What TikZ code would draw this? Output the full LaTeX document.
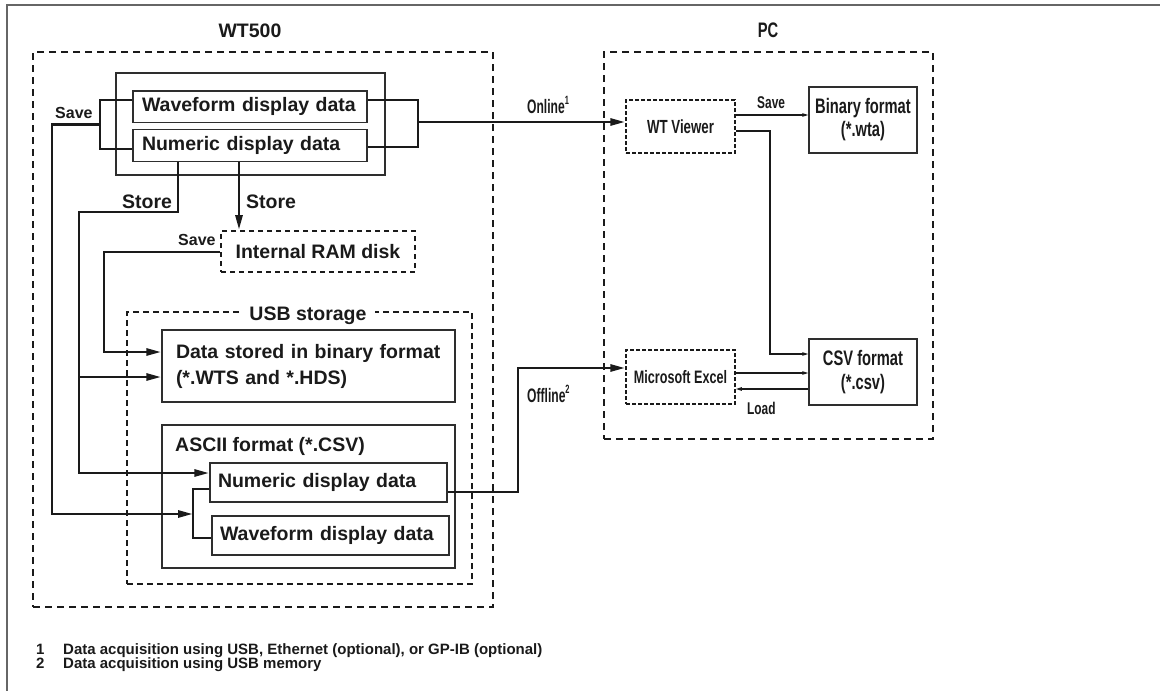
\documentclass[tikz,border=0pt]{standalone}
\usepackage{fontspec}
\setmainfont{Liberation Sans}
\newfontfamily\nf{Liberation Sans}[FakeStretch=0.7]
\newfontfamily\nnf{Liberation Sans}[FakeStretch=0.62]
\usetikzlibrary{arrows.meta,calc}
\definecolor{ink}{HTML}{1A1A1A}
\definecolor{edge}{HTML}{2E2E2E}
\definecolor{framec}{HTML}{666666}
\tikzset{
  lbl/.style={font={\fontsize{19.5}{24}\selectfont\bfseries}, text=ink, inner sep=0pt},
  slbl/.style={font={\fontsize{16}{18}\selectfont\bfseries}, text=ink, inner sep=0pt},
  nlbl/.style={font={\nf\fontsize{17}{20}\selectfont\bfseries}, text=ink, inner sep=0pt},
  olbl/.style={font={\nnf\fontsize{19.5}{22}\selectfont\bfseries}, text=ink, inner sep=0pt},
  fnote/.style={font={\fontsize{15}{16}\selectfont\bfseries}, text=ink, inner sep=0pt},
  sbox/.style={draw=edge, line width=1.4pt, inner ysep=0pt, align=left, lbl},
  bigbox/.style={draw=ink, line width=2.4pt, dash pattern=on 7pt off 5pt},
  usbbox/.style={draw=ink, line width=1.7pt, dash pattern=on 6pt off 4pt},
  rambox/.style={draw=ink, line width=2pt, dash pattern=on 5pt off 4pt},
  appbox/.style={draw=ink, line width=1.5pt, dash pattern=on 4pt off 2pt, inner sep=0pt},
  conn/.style={draw=ink, line width=2.8pt},
  arr/.style={-{Triangle[length=15pt,width=7pt]}},
  thinln/.style={draw=ink, line width=1.1pt},
  tarr/.style={-{Triangle[length=6pt,width=3.4pt]}}
}
\begin{document}
\begin{tikzpicture}[x=1pt,y=-1pt]
\useasboundingbox (0,0) rectangle (1160,691);
% outer frame
\draw[framec, line width=1.6pt] (7,691) -- (7,5) -- (1160,5);

% ---------------- WT500 side ----------------
\node[lbl, font={\fontsize{19.5}{22}\selectfont\bfseries}, anchor=base] (wtt) at (250,37) {WT500};
\node[bigbox, minimum width=460, minimum height=555] (wt) at (263,329.5) {};
\node[draw=edge, line width=1.4pt, minimum width=269, minimum height=102] (disp) at (250.5,124) {};
\node[sbox, text width=216, inner xsep=9pt, minimum height=31.7] (wf) at (250,106.9) {Waveform display data};
\node[sbox, text width=216, inner xsep=9pt, minimum height=31.7] (nd) at (250,145.5) {Numeric display data};

\node[rambox, lbl, minimum width=194, minimum height=41] (ram) at (318,251.5) {Internal RAM disk};

\node[usbbox, minimum width=345, minimum height=272] (usb) at (299.5,448) {};
\node[lbl, fill=white, inner xsep=8pt, anchor=base] (usbt) at (308,320) {USB storage};

\node[sbox, font={\fontsize{19.5}{26}\selectfont\bfseries}, text width=265, inner xsep=14pt, minimum height=72] (bin) at (308.5,366) {Data stored in binary format\\(*.WTS and *.HDS)};

\node[draw=edge, line width=1.4pt, minimum width=293, minimum height=143] (ascii) at (308.5,496.5) {};
\node[lbl, anchor=base west] (asciit) at (175,451) {ASCII format (*.CSV)};
\node[sbox, text width=221, inner xsep=8pt, minimum height=39] (and2) at (328.5,482.5) {Numeric display data};
\node[sbox, text width=221, inner xsep=8pt, minimum height=39] (awf) at (330.5,535.5) {Waveform display data};

% ---------------- PC side ----------------
\node[lbl, font={\nf\fontsize{21}{22}\selectfont\bfseries}, anchor=base] (pct) at (768,37) {PC};
\node[bigbox, minimum width=329, minimum height=387] (pc) at (768.5,245.5) {};
\node[appbox, font={\nf\fontsize{19}{22}\selectfont\bfseries}, text=ink, minimum width=109, minimum height=53] (wtv) at (680.5,126.5) {WT Viewer};
\node[appbox, font={\nf\fontsize{18}{22}\selectfont\bfseries}, text=ink, minimum width=109, minimum height=54] (excel) at (680.5,377) {Microsoft Excel};
\node[draw=edge, line width=1.4pt, font={\nf\fontsize{21}{23}\selectfont\bfseries}, text=ink, align=center, inner sep=0pt, minimum width=108, minimum height=66] (binf) at (863,120) {Binary format\\(*.wta)};
\node[draw=edge, line width=1.4pt, font={\nf\fontsize{21}{24}\selectfont\bfseries}, text=ink, align=center, inner sep=0pt, minimum width=108, minimum height=66] (csv) at (863,372) {CSV format\\(*.csv)};

% ---------------- coordinates ----------------
\coordinate (b1) at (100,100);
\coordinate (b2) at (100,149);
\coordinate (bm) at (100,124.5);
\coordinate (s1) at (52,124.5);
\coordinate (s2) at (52,514);
\coordinate (c1) at (193,489);
\coordinate (c2) at (193,538);
\coordinate (r1) at (418,100);
\coordinate (r2) at (418,147);
\coordinate (rm) at (418,122);
\coordinate (st0) at (178,0);
\coordinate (st1) at (178,212);
\coordinate (st2) at (79,212);
\coordinate (st3) at (79,473);
\coordinate (st4) at (79,377);
\coordinate (sr) at (239,0);
\coordinate (rs1) at (104,252);
\coordinate (rs2) at (104,352);
\coordinate (o1) at (518,492);
\coordinate (o2) at (518,368);
\coordinate (p1) at (770,115);
\coordinate (p2) at (770,131);
\coordinate (p3) at (770,354);
\coordinate (p4) at (770,373);
\coordinate (p5) at (770,389);

% ---------------- connectors ----------------
% display data brackets
\draw[conn] (b1 -| wf.west) -- (b1) -- (b2) -- (b2 -| nd.west);
\draw[conn, arr] (bm) -- (s1) -- (s2) -- (s2 -| c1);
\draw[conn] (c1 -| and2.west) -- (c1) -- (c2) -- (c2 -| awf.west);
\draw[conn] (r1 -| wf.east) -- (r1) -- (r2) -- (r2 -| nd.east);
\draw[conn, arr] (rm) -- (rm -| wtv.west);
% store
\draw[conn, arr] (st0 |- nd.south) -- (st1) -- (st2) -- (st3) -- (st3 -| and2.west);
\draw[conn, arr] (st4) -- (st4 -| bin.west);
\draw[conn, arr] (sr |- nd.south) -- (sr |- ram.north);
% RAM save
\draw[conn, arr] (rs1 -| ram.west) -- (rs1) -- (rs2) -- (rs2 -| bin.west);
% offline
\draw[conn, arr] (o1 -| and2.east) -- (o1) -- (o2) -- (o2 -| excel.west);
% PC internal
\draw[thinln, tarr] (p1 -| wtv.east) -- (p1 -| binf.west);
\draw[thinln, tarr] (p2 -| wtv.east) -- (p2) -- (p3) -- (p3 -| csv.west);
\draw[thinln, tarr] (p4 -| excel.east) -- (p4 -| csv.west);
\draw[thinln, tarr] (p5 -| csv.west) -- (p5 -| excel.east);

% ---------------- labels ----------------
\node[slbl, anchor=base west] (save1) at (55,118) {Save};
\node[lbl, anchor=base west] (store1) at (122,208) {Store};
\node[lbl, anchor=base west] (store2) at (246,208) {Store};
\node[slbl, anchor=base west] (save2) at (178,245) {Save};
\node[olbl, anchor=base west] (online) at (527,113) {Online\raisebox{0.42em}{\fontsize{12}{12}\selectfont 1}};
\node[olbl, anchor=base west] (offline) at (527,402) {Offline\raisebox{0.42em}{\fontsize{12}{12}\selectfont 2}};
\node[nlbl, anchor=base west] (save3) at (757,108) {Save};
\node[nlbl, anchor=base west] (load) at (747,414) {Load};

% footnotes
\node[fnote, anchor=base west] (fn1n) at (36,654) {1};
\node[fnote, anchor=base west] (fn1) at (63,654) {Data acquisition using USB, Ethernet (optional), or GP-IB (optional)};
\node[fnote, anchor=base west] (fn2n) at (36,668) {2};
\node[fnote, anchor=base west] (fn2) at (63,668) {Data acquisition using USB memory};
\end{tikzpicture}
\end{document}
